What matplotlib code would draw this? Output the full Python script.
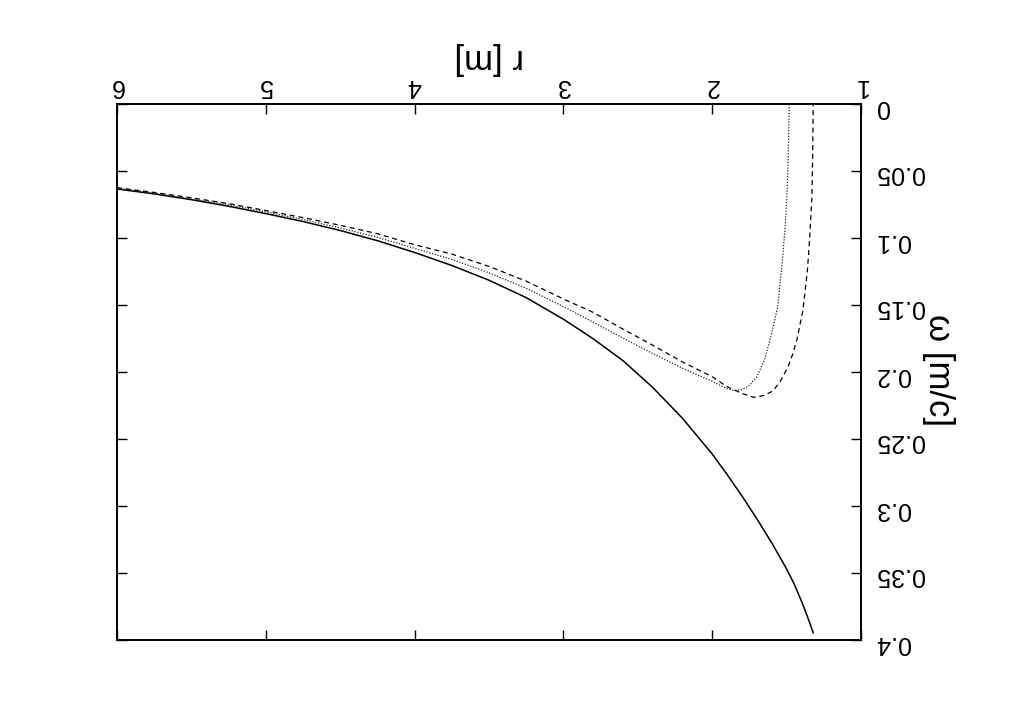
import matplotlib
matplotlib.use('Agg')
import matplotlib.pyplot as plt

plt.rcParams['font.family'] = ['Liberation Sans', 'DejaVu Sans']

# solid curve
r_solid = [6.00, 5.75, 5.50, 5.25, 5.00, 4.75, 4.50, 4.25, 4.00, 3.75, 3.50, 3.25,
           3.00, 2.80, 2.60, 2.40, 2.20, 2.00, 1.90, 1.80, 1.70, 1.60, 1.50, 1.45,
           1.40, 1.36, 1.321]
w_solid = [0.0634, 0.0671, 0.0714, 0.0763, 0.0818, 0.0877, 0.0944, 0.1020, 0.1108,
           0.1205, 0.1315, 0.1445, 0.1606, 0.1752, 0.1915, 0.2115, 0.2345, 0.2612,
           0.2765, 0.2925, 0.3095, 0.3275, 0.3470, 0.3580, 0.3710, 0.3825, 0.3946]

# dotted curve
r_dot = [6.00, 5.75, 5.50, 5.25, 5.00, 4.75, 4.50, 4.25, 4.00, 3.75, 3.50, 3.25,
         3.00, 2.80, 2.60, 2.40, 2.20, 2.00, 1.90, 1.85, 1.80, 1.75, 1.70, 1.65,
         1.60, 1.56, 1.53, 1.51, 1.50, 1.49, 1.482]
w_dot = [0.0629, 0.0665, 0.0709, 0.0752, 0.0805, 0.0862, 0.0925, 0.0995, 0.1077,
         0.1160, 0.1260, 0.1375, 0.1512, 0.1628, 0.1747, 0.1862, 0.1972, 0.2070,
         0.2125, 0.2138, 0.2132, 0.2100, 0.2035, 0.1915, 0.1711, 0.1515, 0.1190,
         0.0920, 0.0730, 0.0450, 0.0]

# dashed curve
r_dash = [6.00, 5.75, 5.50, 5.25, 5.00, 4.75, 4.50, 4.25, 4.00, 3.75, 3.50, 3.25,
          3.00, 2.80, 2.60, 2.40, 2.20, 2.00, 1.90, 1.80, 1.72, 1.65, 1.59, 1.54,
          1.49, 1.46, 1.43, 1.39, 1.36, 1.345, 1.33, 1.325, 1.321]
w_dash = [0.0625, 0.0660, 0.0700, 0.0743, 0.0795, 0.0848, 0.0905, 0.0968, 0.1050,
          0.1120, 0.1212, 0.1322, 0.1455, 0.1555, 0.1680, 0.1800, 0.1925, 0.2035,
          0.2110, 0.2160, 0.2189, 0.2175, 0.2140, 0.2065, 0.1960, 0.1870, 0.1755,
          0.1537, 0.1240, 0.1000, 0.0700, 0.0400, 0.0]

x_ticks = [1, 2, 3, 4, 5, 6]
x_labels = ['1', '2', '3', '4', '5', '6']
y_ticks = [0, 0.05, 0.1, 0.15, 0.2, 0.25, 0.3, 0.35, 0.4]
y_labels = ['0', '0.05', '0.1', '0.15', '0.2', '0.25', '0.3', '0.35', '0.4']

W, H = 1016, 718
fig = plt.figure(figsize=(W / 100, H / 100), dpi=100)
# frame in pixels: left 117, right 861, top 104, bottom 640
ax = fig.add_axes([117 / W, 1 - 640 / H, (861 - 117) / W, (640 - 104) / H])

ax.plot(r_solid, w_solid, color='k', lw=1.1, ls='-')
ax.plot(r_dot, w_dot, color='#222222', lw=0.9, ls=(0, (1, 1.3)))
ax.plot(r_dash, w_dash, color='k', lw=0.9, ls=(0, (4, 3)))

# whole picture is upside down
ax.set_xlim(6, 1)
ax.set_ylim(0.4, 0)

ax.set_xticks(x_ticks)
ax.set_xticklabels(x_labels)
ax.set_yticks(y_ticks)
ax.set_yticklabels(y_labels)
ax.tick_params(direction='in', length=7, width=1,
               top=True, bottom=True, left=True, right=True,
               labeltop=True, labelbottom=False, labelright=True, labelleft=False,
               labelsize=18, labelrotation=180)
ax.tick_params(axis='x', pad=4)
ax.tick_params(axis='y', pad=10)
for s in ax.spines.values():
    s.set_linewidth(1.4)

fig.text(489.5 / W, 1 - 59 / H, 'r [m]', fontsize=25, rotation=180,
         ha='center', va='center')
fig.text(938 / W, 1 - 370 / H, 'ω [m/c]', fontsize=25, rotation=270,
         ha='center', va='center')

fig.savefig('out.png', dpi=100)
